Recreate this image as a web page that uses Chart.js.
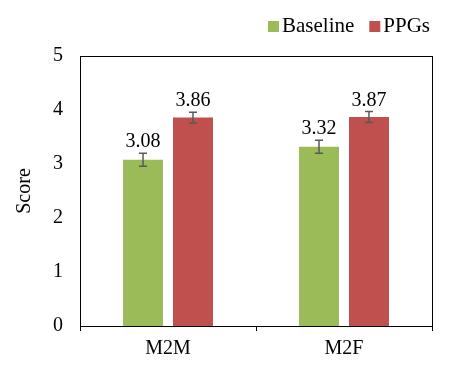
<!DOCTYPE html>
<html>
<head>
<meta charset="utf-8">
<script src="https://cdn.jsdelivr.net/npm/chart.js@4"></script>
<style>
  html, body { margin: 0; padding: 0; background: #fff; }
  #wrap { width: 454px; height: 369px; }
</style>
</head>
<body>
<div id="wrap"><canvas id="chart" width="454" height="369"></canvas></div>
<script>
const categories = ['M2M', 'M2F'];
const baseline = [3.08, 3.32];
const baselineErr = [0.12, 0.12];
const ppgs = [3.86, 3.87];
const ppgsErr = [0.1, 0.1];
const yTicks = [0, 1, 2, 3, 4, 5];

const FONT = '"Liberation Serif", "Times New Roman", serif';

// error bars + value labels
const errorBars = {
    id: 'errorBars',
    afterDatasetsDraw(chart) {
        const ctx = chart.ctx;
        const y = chart.scales.y;
        chart.data.datasets.forEach((ds, i) => {
            const meta = chart.getDatasetMeta(i);
            meta.data.forEach((bar, j) => {
                const v = ds.data[j];
                const e = ds.errors[j];
                const top = y.getPixelForValue(v + e);
                const bot = y.getPixelForValue(v - e);
                ctx.save();
                ctx.strokeStyle = '#595959';
                ctx.lineWidth = 1.5;
                ctx.beginPath();
                ctx.moveTo(bar.x, top); ctx.lineTo(bar.x, bot);
                ctx.moveTo(bar.x - 4, top); ctx.lineTo(bar.x + 4, top);
                ctx.moveTo(bar.x - 4, bot); ctx.lineTo(bar.x + 4, bot);
                ctx.stroke();
                ctx.fillStyle = '#000';
                ctx.font = '20px ' + FONT;
                ctx.textAlign = 'center';
                ctx.textBaseline = 'alphabetic';
                ctx.fillText(v.toFixed(2), bar.x, top - 6);
                ctx.restore();
            });
        });
    }
};

// box round the plot area + legend (Excel-style, tight box/text gap)
const frame = {
    id: 'frame',
    afterDraw(chart) {
        const a = chart.chartArea;
        const ctx = chart.ctx;
        ctx.save();
        ctx.strokeStyle = '#000';
        ctx.lineWidth = 1;
        ctx.strokeRect(a.left + 0.5, a.top + 0.5, a.right - a.left, a.bottom - a.top);

        ctx.font = '21px ' + FONT;
        ctx.textBaseline = 'alphabetic';
        ctx.textAlign = 'left';
        let x = a.right - 2;
        const base = 32;
        const items = chart.data.datasets.slice().reverse();
        items.forEach(ds => {
            const w = ctx.measureText(ds.label).width;
            x -= w;
            ctx.fillStyle = '#000';
            ctx.fillText(ds.label, x, base);
            ctx.fillStyle = ds.backgroundColor;
            ctx.fillRect(x - 14, base - 11, 11, 11);
            x -= 14 + 15;
        });
        ctx.restore();
    }
};

new Chart(document.getElementById('chart'), {
    type: 'bar',
    data: {
        labels: categories,
        datasets: [{
            label: 'Baseline',
            data: baseline,
            errors: baselineErr,
            backgroundColor: '#9BBB59',
            categoryPercentage: 0.568,
            barPercentage: 0.8
        }, {
            label: 'PPGs',
            data: ppgs,
            errors: ppgsErr,
            backgroundColor: '#C0504D',
            categoryPercentage: 0.568,
            barPercentage: 0.8
        }]
    },
    options: {
        responsive: false,
        animation: false,
        layout: { padding: { top: 56, right: 10, left: 0, bottom: 0 } },
        plugins: {
            legend: { display: false },
            tooltip: { enabled: false }
        },
        scales: {
            x: {
                grid: { display: true, drawOnChartArea: false, drawTicks: true, tickLength: 5, color: '#000', offset: true },
                border: { color: '#000' },
                ticks: { color: '#000', font: { family: FONT, size: 20 }, padding: 6 },
                afterFit(scale) { scale.height = 43; }
            },
            y: {
                min: 0,
                max: 5,
                afterBuildTicks(scale) { scale.ticks = yTicks.map(v => ({ value: v })); },
                grid: { display: false, drawTicks: false },
                border: { color: '#000' },
                ticks: { color: '#000', font: { family: FONT, size: 20 }, padding: 17 },
                title: { display: true, text: 'Score', color: '#000', font: { family: FONT, size: 20 }, padding: { top: 13, bottom: 0 } },
                afterFit(scale) { scale.width = 80; }
            },
            pad: {
                type: 'linear',
                position: 'right',
                display: true,
                grid: { display: false },
                border: { display: false },
                ticks: { display: false },
                afterFit(scale) { scale.width = 12; }
            }
        }
    },
    plugins: [errorBars, frame]
});
</script>
</body>
</html>
